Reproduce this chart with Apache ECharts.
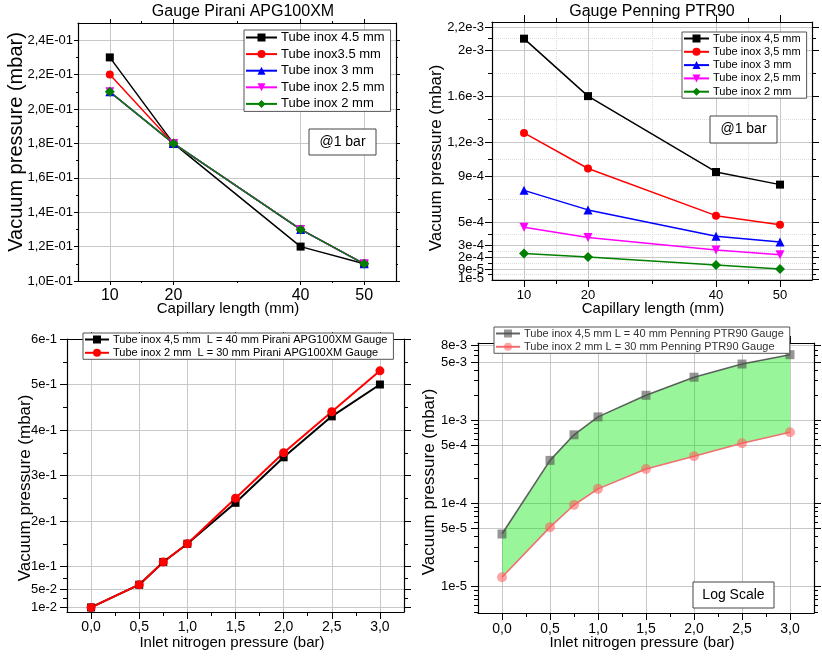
<!DOCTYPE html>
<html>
<head>
<meta charset="utf-8">
<script src="https://cdn.jsdelivr.net/npm/echarts@6/dist/echarts.min.js"></script>
<style>
  html, body { margin: 0; padding: 0; background: #fff; }
  #main { width: 822px; height: 659px; }
</style>
</head>
<body>
<div id="main"></div>
<script>
// capillary length sweep @1 bar
var capLength = [10, 20, 40, 50];
var piraniTube45 = [0.23, 0.18, 0.12, 0.11];
var piraniTube35 = [0.22, 0.18, 0.13, 0.11];
var piraniTube3 = [0.21, 0.18, 0.13, 0.11];
var piraniTube25 = [0.21, 0.18, 0.13, 0.11];
var piraniTube2 = [0.21, 0.18, 0.13, 0.11];

var penningTube45 = [2.1e-3, 1.6e-3, 0.94e-3, 0.83e-3];
var penningTube35 = [1.28e-3, 0.97e-3, 0.56e-3, 0.48e-3];
var penningTube3 = [0.78e-3, 0.61e-3, 0.38e-3, 0.33e-3];
var penningTube25 = [0.46e-3, 0.37e-3, 0.26e-3, 0.22e-3];
var penningTube2 = [0.23e-3, 0.20e-3, 0.13e-3, 0.095e-3];

// inlet pressure sweep
var inletPressure = [0, 0.5, 0.75, 1.0, 1.5, 2.0, 2.5, 3.0];
var piraniL40 = [0.01, 0.06, 0.11, 0.15, 0.24, 0.34, 0.43, 0.50];
var piraniL30 = [0.01, 0.06, 0.11, 0.15, 0.25, 0.35, 0.44, 0.53];
var penningL40 = [4.3e-5, 3.3e-4, 6.7e-4, 1.1e-3, 2.0e-3, 3.3e-3, 4.75e-3, 6.15e-3];
var penningL30 = [1.3e-5, 5.2e-5, 9.6e-5, 1.5e-4, 2.6e-4, 3.7e-4, 5.3e-4, 7.2e-4];

// tick labels
var capTicks = [10, 20, 40, 50];
var capLabels = ['10', '20', '40', '50'];
var piraniYTicks = [0.10, 0.12, 0.14, 0.16, 0.18, 0.20, 0.22, 0.24];
var piraniYLabels = ['1,0E-01', '1,2E-01', '1,4E-01', '1,6E-01', '1,8E-01', '2,0E-01', '2,2E-01', '2,4E-01'];
var penningYTicks = [2.2e-3, 2e-3, 1.6e-3, 1.2e-3, 9e-4, 5e-4, 3e-4, 2e-4, 9e-5, 1e-5];
var penningYLabels = ['2,2e-3', '2e-3', '1.6e-3', '1,2e-3', '9e-4', '5e-4', '3e-4', '2e-4', '9e-5', '1e-5'];
var inletTicks = [0, 0.5, 1.0, 1.5, 2.0, 2.5, 3.0];
var inletLabels = ['0,0', '0,5', '1,0', '1,5', '2,0', '2,5', '3,0'];
var inletYTicks = [0.6, 0.5, 0.4, 0.3, 0.2, 0.1, 0.05, 0.01];
var inletYLabels = ['6e-1', '5e-1', '4e-1', '3e-1', '2e-1', '1e-1', '5e-2', '1e-2'];
var logYTicks = [8e-3, 5e-3, 1e-3, 5e-4, 1e-4, 5e-5, 1e-5];
var logYLabels = ['8e-3', '5e-3', '1e-3', '5e-4', '1e-4', '5e-5', '1e-5'];

function fmt(ticks, labels) {
  return function (v) {
    for (var i = 0; i < ticks.length; i++) {
      if (Math.abs(v - ticks[i]) <= Math.abs(ticks[i]) * 1e-6 + 1e-15) return labels[i];
    }
    return '';
  };
}
function mids(arr) {
  var s = arr.slice().sort(function (a, b) { return a - b; });
  var out = [];
  for (var i = 1; i < s.length; i++) out.push((s[i - 1] + s[i]) / 2);
  return out;
}
function logMinor(lo, hi) {
  var out = [];
  for (var k = -6; k <= -2; k++) {
    for (var m = 2; m <= 9; m++) {
      var v = m * Math.pow(10, k);
      if (v > lo && v < hi) out.push(v);
    }
  }
  return out;
}
function pairs(xs, ys) {
  return xs.map(function (x, i) { return [x, ys[i]]; });
}

var xAxes = [];
var yAxes = [];

// main axis + mirror axis + minor tick axes for one side of a frame
function addAxes(list, grid, c) {
  var idx = list.length;
  var common = { gridIndex: grid, type: c.type || 'value', min: c.min, max: c.max, silent: true };
  if (c.type === 'log') common.logBase = 10;
  var line = { onZero: false, lineStyle: { color: '#000', width: 1.2 } };
  var labelStyle = { fontSize: c.font, color: '#000', margin: c.margin, hideOverlap: false };
  list.push(Object.assign({}, common, {
    position: c.pos[0],
    axisLine: line,
    axisTick: { customValues: c.major, length: c.tick, lineStyle: { color: '#000' } },
    axisLabel: Object.assign({ customValues: c.major, formatter: fmt(c.major, c.labels) }, labelStyle),
    splitLine: { show: true, lineStyle: { color: '#c8c8c8', width: 1 } }
  }));
  list.push(Object.assign({}, common, {
    position: c.pos[1],
    axisLine: line,
    axisTick: { customValues: c.major, length: c.tick, lineStyle: { color: '#000' } },
    axisLabel: { show: false },
    splitLine: { show: false }
  }));
  [0, 1].forEach(function (k) {
    list.push(Object.assign({}, common, {
      position: c.pos[k],
      axisLine: { show: false, onZero: false },
      axisTick: { customValues: c.minor, length: Math.round(c.tick / 2), lineStyle: { color: '#000' } },
      axisLabel: { show: false },
      splitLine: { show: !!(c.minorGrid && k === 0), lineStyle: { color: '#dcdcdc', type: 'dotted' } }
    }));
  });
  // crowded labels go on their own axis so they are not dropped
  if (c.extra) {
    list.push(Object.assign({}, common, {
      position: c.pos[0],
      axisLine: { show: false, onZero: false },
      axisTick: { show: false },
      axisLabel: Object.assign({ customValues: c.extra, formatter: fmt(c.major, c.labels) }, labelStyle),
      splitLine: { show: false }
    }));
  }
  return idx;
}

var grids = [
  { left: 78, top: 23, width: 318, height: 258 },
  { left: 492, top: 22, width: 320, height: 258 },
  { left: 67, top: 339, width: 337, height: 273 },
  { left: 478, top: 343, width: 336, height: 270 }
];

var tlX = addAxes(xAxes, 0, { min: 5, max: 55, major: capTicks, labels: capLabels, minor: mids(capTicks), pos: ['bottom', 'top'], font: 16, tick: 4, margin: 7 });
var tlY = addAxes(yAxes, 0, { min: 0.10, max: 0.25, major: piraniYTicks, labels: piraniYLabels, minor: mids(piraniYTicks), pos: ['left', 'right'], font: 13, tick: 4, margin: 5 });
var trX = addAxes(xAxes, 1, { min: 5, max: 55, major: capTicks, labels: capLabels, minor: mids(capTicks), pos: ['bottom', 'top'], font: 13, tick: 7, margin: 9, minorGrid: true });
var trY = addAxes(yAxes, 1, { min: 0, max: 2.245e-3, major: penningYTicks, labels: penningYLabels, minor: mids(penningYTicks), pos: ['left', 'right'], font: 13, tick: 7, margin: 8, minorGrid: true, extra: [1e-5] });
var blX = addAxes(xAxes, 2, { min: -0.25, max: 3.25, major: inletTicks, labels: inletLabels, minor: mids(inletTicks), pos: ['bottom', 'top'], font: 14, tick: 7, margin: 8 });
var blY = addAxes(yAxes, 2, { min: 0, max: 0.6, major: inletYTicks, labels: inletYLabels, minor: mids(inletYTicks), pos: ['left', 'right'], font: 13, tick: 7, margin: 10 });
var brX = addAxes(xAxes, 3, { min: -0.25, max: 3.25, major: inletTicks, labels: inletLabels, minor: mids(inletTicks), pos: ['bottom', 'top'], font: 14, tick: 7, margin: 9 });
var brY = addAxes(yAxes, 3, { type: 'log', min: 4.83e-6, max: 8.5e-3, major: logYTicks, labels: logYLabels, minor: logMinor(4.83e-6, 8.5e-3), pos: ['left', 'right'], font: 13, tick: 7, margin: 11 });

function lineSeries(name, xi, yi, xs, ys, color, symbol, size, width) {
  return {
    name: name, type: 'line', xAxisIndex: xi, yAxisIndex: yi,
    data: pairs(xs, ys), symbol: symbol, symbolSize: size,
    showAllSymbol: true,
    lineStyle: { color: color, width: width || 1.5 },
    itemStyle: { color: color },
    emphasis: { disabled: true }
  };
}

var downTri = 'path://M0,0 L10,0 L5,9 Z';

var series = [
  lineSeries('Tube inox 4.5 mm', tlX, tlY, capLength, piraniTube45, '#000000', 'rect', 8),
  lineSeries('Tube inox3.5 mm', tlX, tlY, capLength, piraniTube35, '#ff0000', 'circle', 8),
  lineSeries('Tube inox 3 mm', tlX, tlY, capLength, piraniTube3, '#0000ff', 'triangle', 9),
  lineSeries('Tube inox 2.5 mm', tlX, tlY, capLength, piraniTube25, '#ff00ff', downTri, 9),
  lineSeries('Tube inox 2 mm', tlX, tlY, capLength, piraniTube2, '#008000', 'diamond', 10),

  lineSeries('Tube inox 4,5 mm', trX, trY, capLength, penningTube45, '#000000', 'rect', 8),
  lineSeries('Tube inox 3,5 mm', trX, trY, capLength, penningTube35, '#ff0000', 'circle', 8),
  lineSeries('Tube inox 3 mm', trX, trY, capLength, penningTube3, '#0000ff', 'triangle', 9),
  lineSeries('Tube inox 2,5 mm', trX, trY, capLength, penningTube25, '#ff00ff', downTri, 9),
  lineSeries('Tube inox 2 mm', trX, trY, capLength, penningTube2, '#008000', 'diamond', 10),

  lineSeries('Tube inox 4,5 mm  L = 40 mm Pirani APG100XM Gauge', blX, blY, inletPressure, piraniL40, '#000000', 'rect', 8, 2),
  lineSeries('Tube inox 2 mm  L = 30 mm Pirani APG100XM Gauge', blX, blY, inletPressure, piraniL30, '#ff0000', 'circle', 9, 2),

  {
    type: 'custom', xAxisIndex: brX, yAxisIndex: brY, z: 1, silent: true,
    data: pairs(inletPressure, penningL40),
    renderItem: function (params, api) {
      if (params.dataIndex !== 0) return null;
      var pts = [];
      for (var i = 0; i < inletPressure.length; i++) pts.push(api.coord([inletPressure[i], penningL40[i]]));
      for (var j = inletPressure.length - 1; j >= 0; j--) pts.push(api.coord([inletPressure[j], penningL30[j]]));
      return { type: 'polygon', shape: { points: pts }, style: { fill: 'rgba(0,230,0,0.4)' } };
    }
  },
  {
    name: 'Tube inox 4,5 mm L = 40 mm Penning PTR90 Gauge', type: 'line',
    xAxisIndex: brX, yAxisIndex: brY, data: pairs(inletPressure, penningL40),
    symbol: 'rect', symbolSize: 9,
    lineStyle: { color: 'rgba(70,70,70,0.85)', width: 1.6 },
    itemStyle: { color: 'rgba(80,80,80,0.6)' },
    emphasis: { disabled: true }
  },
  {
    name: 'Tube inox 2 mm L = 30 mm Penning PTR90 Gauge', type: 'line',
    xAxisIndex: brX, yAxisIndex: brY, data: pairs(inletPressure, penningL30),
    symbol: 'circle', symbolSize: 10,
    lineStyle: { color: '#f07070', width: 1.6 },
    itemStyle: { color: 'rgba(255,90,90,0.55)' },
    emphasis: { disabled: true }
  }
];

function legendBox(names, left, top, font, width, gap, color) {
  return {
    data: names, orient: 'vertical', left: left, top: top,
    itemWidth: width, itemHeight: 10, itemGap: gap,
    padding: [1, 6, 1, 1],
    backgroundColor: '#fff', borderColor: '#555', borderWidth: 1,
    selectedMode: false,
    textStyle: { fontSize: font, color: color || '#000', padding: [0, 0, 0, -1] }
  };
}

var legends = [
  legendBox(['Tube inox 4.5 mm', 'Tube inox3.5 mm', 'Tube inox 3 mm', 'Tube inox 2.5 mm', 'Tube inox 2 mm'], 244, 30, 13, 31, 3.6),
  legendBox(['Tube inox 4,5 mm', 'Tube inox 3,5 mm', 'Tube inox 3 mm', 'Tube inox 2,5 mm', 'Tube inox 2 mm'], 682, 32, 11, 25, 2.3),
  legendBox(['Tube inox 4,5 mm  L = 40 mm Pirani APG100XM Gauge', 'Tube inox 2 mm  L = 30 mm Pirani APG100XM Gauge'], 83, 333, 11, 24, 2.3),
  legendBox(['Tube inox 4,5 mm L = 40 mm Penning PTR90 Gauge', 'Tube inox 2 mm L = 30 mm Penning PTR90 Gauge'], 494, 327, 11, 24, 2.3, '#333')
];

function label(text, x, y, size, rotate) {
  return {
    type: 'text', x: x, y: y, rotation: rotate ? Math.PI / 2 : 0, silent: true, z: 100,
    style: { text: text, fontSize: size, fontFamily: 'Liberation Sans', fill: '#000', textAlign: 'center', textVerticalAlign: 'middle' }
  };
}
function note(text, x, y, w, h) {
  return {
    type: 'group', silent: true, children: [
      { type: 'rect', z: 100, shape: { x: x, y: y, width: w, height: h }, style: { fill: '#fff', stroke: '#444', lineWidth: 1 } },
      { type: 'text', z: 101, x: x + w / 2, y: y + h / 2, style: { text: text, fontSize: 14, fontFamily: 'Liberation Sans', fill: '#000', textAlign: 'center', textVerticalAlign: 'middle' } }
    ]
  };
}

var graphics = [
  label('Gauge Pirani APG100XM', 243, 12, 16),
  label('Gauge Penning PTR90', 652, 12, 16),
  label('Vacuum pressure (mbar)', 16, 142, 20, true),
  label('Vacuum pressure (mbar)', 436, 158, 17, true),
  label('Vacuum pressure (mbar)', 25, 488, 17, true),
  label('Vacuum pressure (mbar)', 429, 482, 17, true),
  label('Capillary length (mm)', 228, 309, 15),
  label('Capillary length (mm)', 653, 309, 15),
  label('Inlet nitrogen pressure (bar)', 232, 643, 15),
  label('Inlet nitrogen pressure (bar)', 642, 643, 15),
  note('@1 bar', 309, 129, 67, 26),
  note('@1 bar', 710, 116, 67, 27),
  note('Log Scale', 693, 582, 81, 26)
];

var myChart = echarts.init(document.getElementById('main'));
var option = {
  backgroundColor: '#fff',
  animation: false,
  textStyle: { fontFamily: 'Liberation Sans' },
  grid: grids,
  xAxis: xAxes,
  yAxis: yAxes,
  legend: legends,
  series: series,
  graphic: graphics
};
myChart.setOption(option);
</script>
</body>
</html>
